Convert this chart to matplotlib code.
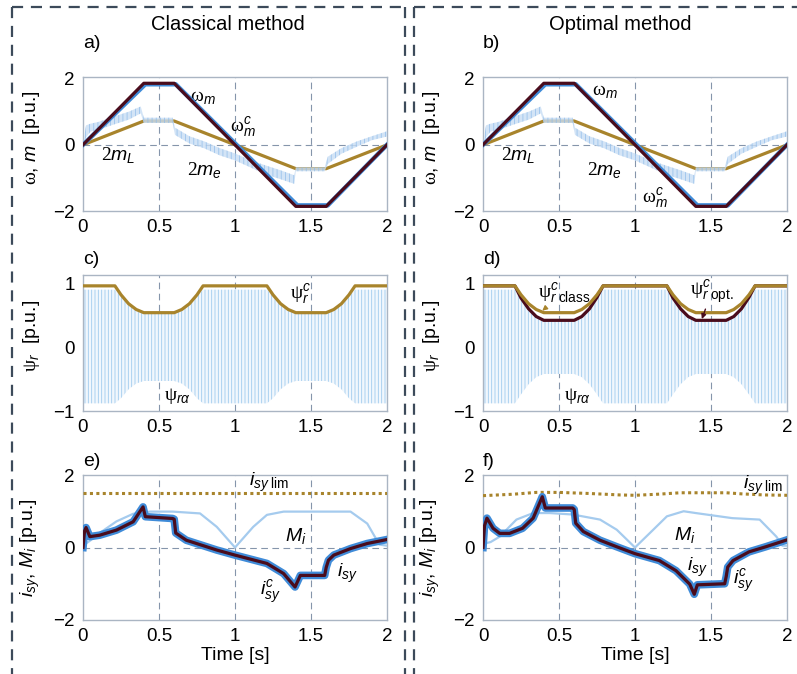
import matplotlib
matplotlib.use("Agg")
import matplotlib.pyplot as plt
from matplotlib.lines import Line2D

plt.rcParams['font.family'] = 'Liberation Sans'
plt.rcParams['mathtext.fontset'] = 'custom'
plt.rcParams['mathtext.rm'] = 'Liberation Serif'
plt.rcParams['mathtext.it'] = 'Liberation Sans:italic'
plt.rcParams['mathtext.sf'] = 'Liberation Sans'
plt.rcParams['hatch.linewidth'] = 0.6

W, H = 797, 674

# ---------------- data ----------------
# speed: reference (thick dark) and measured (blue, slightly lagging)
t_w = [0, 0.4, 0.6, 1.4, 1.6, 2.0]
w_ref = [0, 1.86, 1.86, -1.86, -1.86, 0]
t_wm = [0, 0.41, 0.61, 1.41, 1.61, 2.0]
w_meas = [0, 1.83, 1.83, -1.83, -1.83, 0]

# 2 m_L load torque
t_load = [0, 0.4, 0.6, 1.4, 1.6, 2.0]
m_load = [0, 0.72, 0.72, -0.72, -0.72, 0]

# 2 m_e electromagnetic torque (noisy band: upper / lower edge)
t_me = [0, 0.02, 0.05, 0.1, 0.2, 0.3, 0.38, 0.40, 0.59, 0.605, 0.7, 0.8, 0.9,
        1.0, 1.1, 1.2, 1.3, 1.39, 1.40, 1.59, 1.61, 1.7, 1.8, 1.9, 2.0]
me_hi = [0, 0.59, 0.64, 0.69, 0.85, 1.00, 1.16, 0.82, 0.82, 0.52, 0.26, 0.10, -0.10,
         -0.26, -0.46, -0.62, -0.77, -0.92, -0.68, -0.68, -0.36, -0.10, 0.10, 0.26, 0.41]
me_lo = [0, 0.22, 0.40, 0.45, 0.61, 0.76, 0.95, 0.66, 0.66, 0.30, 0.04, -0.11, -0.32,
         -0.47, -0.68, -0.89, -1.04, -1.18, -0.80, -0.80, -0.58, -0.27, -0.06, 0.14, 0.25]

# rotor flux references
t_psi = [0, 0.21, 0.25, 0.30, 0.35, 0.40, 0.60, 0.65, 0.70, 0.75, 0.79,
         1.21, 1.25, 1.30, 1.35, 1.40, 1.60, 1.65, 1.70, 1.75, 1.79, 2.0]
psi_class = [0.96, 0.96, 0.82, 0.68, 0.59, 0.54, 0.54, 0.59, 0.68, 0.82, 0.96,
             0.96, 0.82, 0.68, 0.59, 0.54, 0.54, 0.59, 0.68, 0.82, 0.96, 0.96]
psi_opt = [0.96, 0.96, 0.77, 0.60, 0.48, 0.42, 0.42, 0.48, 0.60, 0.78, 0.96,
           0.96, 0.77, 0.60, 0.48, 0.42, 0.42, 0.48, 0.60, 0.78, 0.96, 0.96]
# psi_r_alpha oscillation envelope
psia_hi_c = [0.9, 0.9, 0.8, 0.66, 0.57, 0.52, 0.52, 0.57, 0.66, 0.8, 0.9,
             0.9, 0.8, 0.66, 0.57, 0.52, 0.52, 0.57, 0.66, 0.8, 0.9, 0.9]
psia_lo_c = [-0.88, -0.88, -0.8, -0.66, -0.57, -0.53, -0.53, -0.57, -0.66, -0.8, -0.88,
             -0.88, -0.8, -0.66, -0.57, -0.53, -0.53, -0.57, -0.66, -0.8, -0.88, -0.88]
psia_hi_o = [0.9, 0.9, 0.76, 0.59, 0.47, 0.41, 0.41, 0.47, 0.59, 0.76, 0.9,
             0.9, 0.76, 0.59, 0.47, 0.41, 0.41, 0.47, 0.59, 0.76, 0.9, 0.9]
psia_lo_o = [-0.88, -0.88, -0.74, -0.58, -0.47, -0.42, -0.42, -0.47, -0.58, -0.74, -0.88,
             -0.88, -0.74, -0.58, -0.47, -0.42, -0.42, -0.47, -0.58, -0.74, -0.88, -0.88]

# i_sy reference, classical
t_ic = [0, 0.01, 0.02, 0.045, 0.11, 0.22, 0.33, 0.395, 0.41, 0.59, 0.60, 0.61, 0.68, 0.88,
        1.0, 1.21, 1.32, 1.395, 1.43, 1.59, 1.60, 1.615, 1.65, 1.76, 1.87, 2.0]
i_c = [0, 0.45, 0.55, 0.30, 0.34, 0.48, 0.71, 1.12, 0.85, 0.80, 0.78, 0.40, 0.20, -0.07,
       -0.21, -0.44, -0.72, -1.09, -0.77, -0.77, -0.55, -0.35, -0.21, -0.03, 0.11, 0.22]
# i_sy reference, optimal
t_io = [0, 0.01, 0.026, 0.066, 0.11, 0.175, 0.26, 0.33, 0.39, 0.41, 0.59, 0.60, 0.61, 0.66,
        0.77, 0.88, 1.0, 1.16, 1.27, 1.36, 1.39, 1.41, 1.59, 1.60, 1.61, 1.645, 1.75, 1.86, 2.0]
i_o = [0, 0.6, 0.81, 0.53, 0.39, 0.39, 0.53, 0.81, 1.40, 1.09, 1.09, 1.05, 0.67, 0.44,
       0.20, 0.02, -0.17, -0.36, -0.64, -1.01, -1.29, -1.03, -1.0, -0.8, -0.54, -0.36, -0.12, 0.02, 0.21]

# M_i
t_mi_c = [0, 0.05, 0.11, 0.22, 0.33, 0.44, 0.59, 0.77, 0.88, 1.0, 1.12, 1.21, 1.32,
          1.76, 1.87, 1.95, 2.0]
mi_c = [0.05, 0.2, 0.4, 0.72, 0.93, 0.99, 0.99, 0.94, 0.57, 0.0, 0.57, 0.90, 0.99,
        0.99, 0.66, 0.08, 0.05]
t_mi_o = [0, 0.05, 0.11, 0.22, 0.33, 0.44, 0.59, 0.77, 0.88, 1.0, 1.12, 1.21, 1.32,
          1.4, 1.64, 1.82, 1.93, 1.97, 2.0]
mi_o = [0.1, 0.15, 0.3, 0.77, 0.95, 0.95, 0.91, 0.77, 0.49, 0.0, 0.49, 0.86, 1.0,
        0.95, 0.81, 0.77, 0.3, 0.05, 0.05]

# current limit
t_lim_c = [0, 2.0]
lim_c = [1.49, 1.49]
t_lim_o = [0, 0.2, 0.35, 0.5, 0.7, 0.9, 1.0, 1.15, 1.3, 1.6, 1.7, 1.85, 2.0]
lim_o = [1.43, 1.47, 1.52, 1.52, 1.49, 1.45, 1.44, 1.47, 1.51, 1.51, 1.48, 1.45, 1.44]

x_ticks = [0, 0.5, 1, 1.5, 2]
x_ticklabels = ['0', '0.5', '1', '1.5', '2']

# ---------------- style ----------------
maroon = '#4a0c1c'
gold = '#a8842c'
blue = '#3f8bd8'
blue_light = '#a5cbee'
grid_col = '#8595ab'
spine_col = '#aab5c3'
frame_col = '#3c4a5a'

fig = plt.figure(figsize=(W / 100, H / 100), dpi=100)


def fx(px):
    return px / W


def fy(py):
    return 1 - py / H


def make_axes(left, top, bottom, ylim, yticks):
    ax = fig.add_axes([fx(left), fy(bottom), 304 / W, (bottom - top) / H])
    ax.set_xlim(0, 2)
    ax.set_ylim(*ylim)
    ax.set_xticks(x_ticks)
    ax.set_xticklabels(x_ticklabels)
    ax.set_yticks(yticks)
    ax.tick_params(length=0, labelsize=13.5, pad=6)
    for s in ax.spines.values():
        s.set_color(spine_col)
        s.set_linewidth(1.0)
    for xv in [0.5, 1, 1.5]:
        ax.axvline(xv, color=grid_col, ls=(0, (6, 4)), lw=0.8, zorder=0)
    ax.axhline(0, color=grid_col, ls=(0, (6, 4)), lw=0.8, zorder=0)
    return ax


cols = [83, 483]
tf = 14  # annotation font size

# ---- a) / b) speed and torque ----
for k, left in enumerate(cols):
    ax = make_axes(left, 77, 211, (-2, 2.05), [-2, 0, 2])
    ax.plot(t_load, m_load, color=gold, lw=2.3, zorder=3)
    ax.fill_between(t_me, me_lo, me_hi, facecolor='#c9def4', edgecolor='#8fbbe9',
                    hatch='||||', alpha=0.8, lw=0, zorder=4)
    ax.plot(t_wm, w_meas, color=blue, lw=3.2, zorder=5)
    ax.plot(t_w, w_ref, color=maroon, lw=2.3, zorder=6)
    ax.set_ylabel(r'$\mathrm{\omega}$, $m$  [p.u.]', fontsize=14)
    ax.yaxis.set_label_coords(-0.135, 0.55)
    ax.text(0.23, -0.32, r'$2m_L$', fontsize=tf, ha='center', va='center')
    ax.text(0.80, -0.75, r'$2m_e$', fontsize=tf, ha='center', va='center')
    if k == 0:
        ax.text(0.79, 1.42, r'$\mathrm{\omega}_m$', fontsize=tf, ha='center', va='center')
        ax.text(1.05, 0.55, r'$\mathrm{\omega}_m^c$', fontsize=tf, ha='center', va='center')
    else:
        ax.text(0.80, 1.62, r'$\mathrm{\omega}_m$', fontsize=tf, ha='center', va='center')
        ax.text(1.13, -1.6, r'$\mathrm{\omega}_m^c$', fontsize=tf, ha='center', va='center')

# ---- c) / d) rotor flux ----
for k, left in enumerate(cols):
    ax = make_axes(left, 275, 411, (-1, 1.13), [-1, 0, 1])
    if k == 0:
        hi, lo = psia_hi_c, psia_lo_c
    else:
        hi, lo = psia_hi_o, psia_lo_o
    ax.fill_between(t_psi, lo, hi, facecolor='#f1f7fd', edgecolor='#9fcaee',
                    hatch='|||||', lw=0, zorder=2)
    if k == 1:
        ax.plot(t_psi, psi_opt, color=maroon, lw=2.3, zorder=4)
    ax.plot(t_psi, psi_class, color=gold, lw=2.3, zorder=5)
    ax.set_ylabel(r'$\mathrm{\psi}_r$  [p.u.]', fontsize=14)
    ax.yaxis.set_label_coords(-0.135, 0.55)
    ax.text(0.62, -0.76, r'$\mathrm{\psi}_{r\alpha}$', fontsize=tf, ha='center', va='center')
    if k == 0:
        ax.text(1.43, 0.84, r'$\mathrm{\psi}_r^c$', fontsize=tf, ha='center', va='center')
    else:
        ax.annotate(r'$\mathrm{\psi}^c_{r\;\mathsf{class}}$', xy=(0.39, 0.57), xytext=(0.36, 0.86),
                    fontsize=tf, ha='left', va='center', zorder=7,
                    arrowprops=dict(arrowstyle='-|>', color=gold, lw=1.0, mutation_scale=7,
                                    shrinkA=9, shrinkB=0))
        ax.annotate(r'$\mathrm{\psi}^c_{r\;\mathsf{opt.}}$', xy=(1.44, 0.44), xytext=(1.36, 0.86),
                    fontsize=tf, ha='left', va='center', zorder=7,
                    arrowprops=dict(arrowstyle='-|>', color=maroon, lw=1.0, mutation_scale=7,
                                    shrinkA=9, shrinkB=0))

# ---- e) / f) current ----
for k, left in enumerate(cols):
    ax = make_axes(left, 475, 620, (-2, 2), [-2, 0, 2])
    if k == 0:
        ti, iv, tm, mv, tl, lv = t_ic, i_c, t_mi_c, mi_c, t_lim_c, lim_c
    else:
        ti, iv, tm, mv, tl, lv = t_io, i_o, t_mi_o, mi_o, t_lim_o, lim_o
    ax.plot(tl, lv, color=gold, lw=2.2, ls=(0, (1, 1.1)), zorder=3)
    ax.plot(tm, mv, color=blue_light, lw=1.6, zorder=3)
    ax.plot(ti, iv, color=blue, lw=5.5, zorder=4)
    ax.plot(ti, iv, color=maroon, lw=2.3, zorder=5)
    ax.set_ylabel(r'$i_{sy}$, $M_i$ [p.u.]', fontsize=14)
    ax.yaxis.set_label_coords(-0.135, 0.5)
    ax.set_xlabel('Time [s]', fontsize=14, labelpad=1)
    if k == 0:
        ax.text(1.22, 1.8, r'$i_{sy\;\mathsf{lim}}$', fontsize=tf, ha='center', va='center')
        ax.text(1.40, 0.33, r'$M_i$', fontsize=tf, ha='center', va='center')
        ax.text(1.74, -0.72, r'$i_{sy}$', fontsize=tf, ha='center', va='center')
        ax.text(1.23, -1.23, r'$i_{sy}^c$', fontsize=tf, ha='center', va='center')
    else:
        ax.text(1.84, 1.72, r'$i_{sy\;\mathsf{lim}}$', fontsize=tf, ha='center', va='center')
        ax.text(1.33, 0.35, r'$M_i$', fontsize=tf, ha='center', va='center')
        ax.text(1.41, -0.54, r'$i_{sy}$', fontsize=tf, ha='center', va='center')
        ax.text(1.71, -0.92, r'$i_{sy}^c$', fontsize=tf, ha='center', va='center')

# ---- panel letters, titles ----
for lab, x, y in [('a)', 83, 43), ('b)', 483, 43), ('c)', 83, 260), ('d)', 483, 260),
                  ('e)', 83, 462), ('f)', 483, 462)]:
    fig.text(fx(x), fy(y), lab, fontsize=14, ha='left', va='center')
fig.text(fx(228), fy(25), 'Classical method', fontsize=14.5, ha='center', va='center')
fig.text(fx(620), fy(25), 'Optimal method', fontsize=14.5, ha='center', va='center')

# ---- dashed frames ----
dash = dict(color=frame_col, lw=1.6, ls=(0, (5, 3.5)))
for seg in [([12, 12], [7, 674]), ([12, 405], [7, 7]), ([405, 405], [7, 674]),
            ([414, 414], [7, 674]), ([414, 797], [7, 7])]:
    fig.add_artist(Line2D([fx(v) for v in seg[0]], [fy(v) for v in seg[1]], **dash))

fig.savefig('out.png', dpi=100)
